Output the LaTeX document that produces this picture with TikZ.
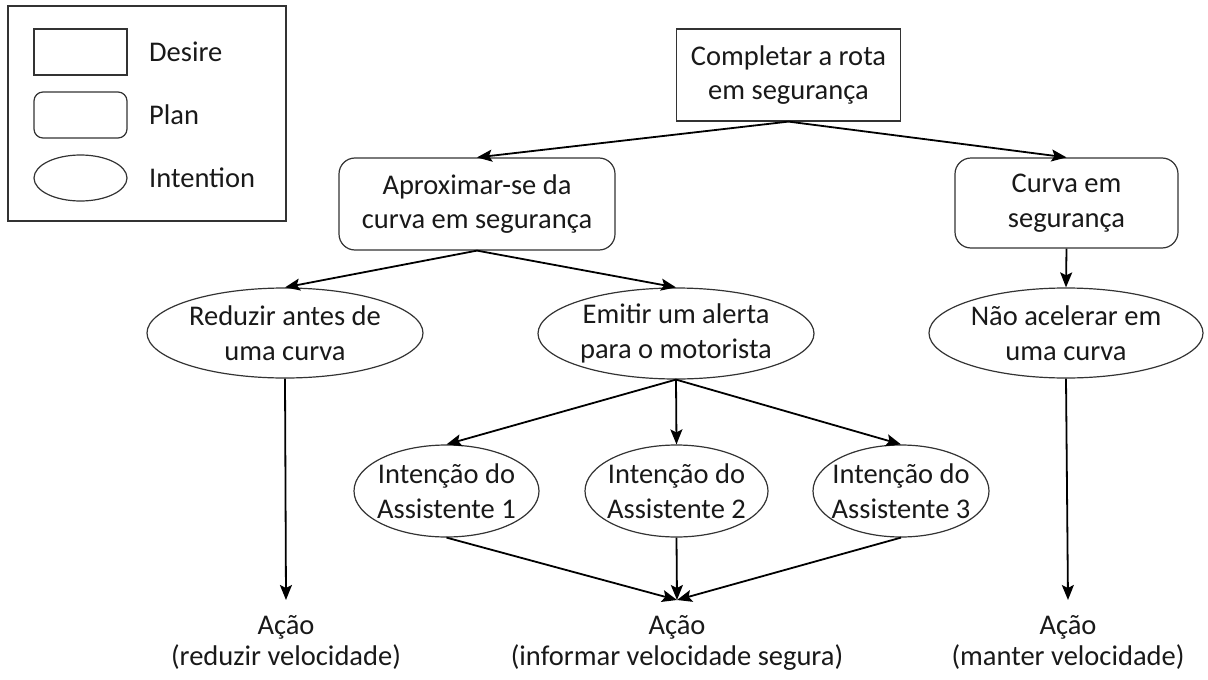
\documentclass[tikz,border=0pt]{standalone}
\usepackage{fontspec}
\setmainfont{Carlito}
\usetikzlibrary{shapes.geometric,arrows.meta}
\begin{document}
\begin{tikzpicture}[x=1pt,y=-1pt,
  every node/.style={font=\fontsize{28.5}{34.5}\selectfont, text=black!90},
  desirebox/.style={draw=black!80, line width=1.2pt, rectangle, inner sep=0pt, align=center},
  planbox/.style={draw=black!80, line width=1.2pt, rectangle, rounded corners=16pt, inner sep=0pt, align=center},
  intentbox/.style={draw=black!80, line width=1.2pt, ellipse, inner sep=-14pt, align=center},
  actbox/.style={font=\fontsize{28.5}{31}\selectfont, inner xsep=0pt, inner ysep=15pt, align=center, anchor=north},
  legtext/.style={anchor=west, inner sep=0pt},
  arr/.style={line width=1.8pt, draw=black, -{Stealth[length=15pt,width=12pt,inset=3pt]}}
]
\useasboundingbox (0,0) rectangle (1208,680);
% legend
\node[draw=black!80, line width=1.3pt, rectangle, minimum width=278pt, minimum height=215pt, inner sep=0pt] (legend) at (147,113.5) {};
\node[desirebox, minimum width=93pt, minimum height=46pt] (ld) at (80.5,52) {};
\node[planbox, rounded corners=9pt, minimum width=93pt, minimum height=46pt] (lp) at (80.5,115) {};
\node[intentbox, inner sep=0pt, minimum width=93pt, minimum height=46pt] (li) at (80.5,178) {};
\node[legtext] (ldt) at (149,52) {Desire};
\node[legtext] (lpt) at (149,115) {Plan};
\node[legtext] (lit) at (149,178) {Intention};
% desire
\node[desirebox, minimum width=224pt, minimum height=92pt] (d) at (788.5,75) {Completar a rota\\em segurança};
% plans
\node[planbox, minimum width=276pt, minimum height=92pt] (p1) at (477,204) {Aproximar-se da\\curva em segurança};
\node[planbox, minimum width=223pt, minimum height=90pt] (p2) at (1066.5,203) {Curva em\\segurança};
% intentions
\node[intentbox, minimum width=276pt, minimum height=90pt] (i1) at (285,333) {Reduzir antes de\\uma curva};
\node[intentbox, minimum width=276pt, minimum height=91pt] (i2) at (676,333.5) {Emitir um alerta\\para o motorista};
\node[intentbox, minimum width=274pt, minimum height=90pt] (i3) at (1066,333) {Não acelerar em\\uma curva};
\node[intentbox, minimum width=185pt, minimum height=92pt] (a1) at (446.5,491) {Intenção do\\Assistente 1};
\node[intentbox, minimum width=183pt, minimum height=92pt] (a2) at (676.5,491) {Intenção do\\Assistente 2};
\node[intentbox, minimum width=176pt, minimum height=92pt] (a3) at (901,491) {Intenção do\\Assistente 3};
% actions
\node[actbox] (c1) at (286,600) {Ação\\(reduzir velocidade)};
\node[actbox] (c2) at (677,600) {Ação\\(informar velocidade segura)};
\node[actbox] (c3) at (1068,600) {Ação\\(manter velocidade)};
% connectors
\draw[arr] (d.south) -- (p1.north);
\draw[arr] (d.south) -- (p2.north);
\draw[arr] (p1.south) -- (i1.north);
\draw[arr] (p1.south) -- (i2.north);
\draw[arr] (p2.south) -- (i3.north);
\draw[arr] (i1.south) -- (c1.north);
\draw[arr] (i3.south) -- (c3.north);
\draw[arr] (i2.south) -- (a1.north);
\draw[arr] (i2.south) -- (a2.north);
\draw[arr] (i2.south) -- (a3.north);
\draw[arr] (a1.south) -- (c2.north);
\draw[arr] (a2.south) -- (c2.north);
\draw[arr] (a3.south) -- (c2.north);
\end{tikzpicture}
\end{document}
